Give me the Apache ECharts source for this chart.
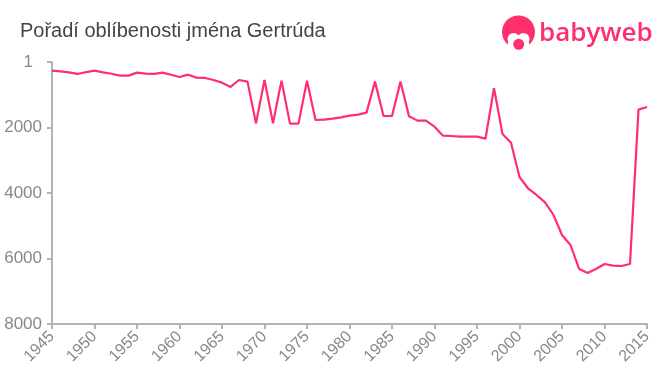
<!DOCTYPE html>
<html>
<head>
<meta charset="utf-8">
<title>Gertrúda</title>
<script src="https://cdn.jsdelivr.net/npm/echarts@6/dist/echarts.min.js"></script>
<style>
html,body{margin:0;padding:0;background:#fff}
#chart{width:660px;height:375px}
</style>
</head>
<body>
<div id="chart"></div>
<script>
var titleText = 'Pořadí oblíbenosti jména Gertrúda';
var logoText = 'babyweb';
var yTicks = [1, 2000, 4000, 6000, 8000];
var years = [];
for (var y = 1945; y <= 2015; y++) years.push(y);
var ranks = [
	265, 290, 320, 366, 310, 265, 320, 360, 418, 418,
	326, 357, 366, 326, 390, 458, 388, 479, 488, 550,
	632, 763, 550, 600, 1872, 550, 1872, 570, 1883, 1883,
	570, 1771, 1760, 1730, 1690, 1640, 1608, 1547, 600, 1649,
	1649, 600, 1659, 1791, 1791, 1975, 2250, 2260, 2280, 2280,
	2280, 2342, 800, 2198, 2464, 3511, 3856, 4061, 4285, 4672,
	5283, 5588, 6311, 6443, 6321, 6168, 6220, 6230, 6168, 1456,
	1374
];

var seriesData = [];
for (var a = 0; a < years.length; a++) {
	seriesData.push([years[a], ranks[a]]);
}

var pink = '#ff2e6c';
var grey = '#888888';
var axisGrey = '#b3b3b3';
var fontName = '"Liberation Sans", Arial, sans-serif';

var chart = echarts.init(document.getElementById('chart'), null, {renderer: 'canvas'});
var option = {
	animation: false,
	backgroundColor: '#fff',
	textStyle: {fontFamily: fontName},
	title: {
		text: titleText, left: 15, top: 16,
		textStyle: {fontSize: 20, fontWeight: 'normal', color: '#444444', fontFamily: fontName}
	},
	grid: {left: 52, right: 13, top: 62, bottom: 51},
	xAxis: {
		type: 'value', min: 1945, max: 2015, interval: 5,
		axisLine: {lineStyle: {color: axisGrey, width: 2}},
		axisTick: {show: true, length: 5, lineStyle: {color: axisGrey, width: 2}},
		axisLabel: {
			rotate: 45, fontSize: 16, color: grey, margin: 10, showMinLabel: true, showMaxLabel: true,
			hideOverlap: false,
			formatter: function(v){ return '' + v; }
		},
		splitLine: {show: false}
	},
	yAxis: {
		type: 'value', inverse: true, min: 1, max: 8000,
		axisLine: {show: true, lineStyle: {color: axisGrey, width: 2}},
		axisTick: {show: true, length: 5, lineStyle: {color: axisGrey, width: 2}, customValues: yTicks},
		axisLabel: {
			fontSize: 17, color: grey, margin: 10, customValues: yTicks, showMinLabel: true, showMaxLabel: true,
			// "1" sedi v originale vic vlevo
			formatter: function(v){ return v == 1 ? '{one|1}' : '' + v; },
			rich: {one: {fontSize: 17, color: grey, padding: [0, 9, 0, 0]}}
		},
		splitLine: {show: false}
	},
	series: [{
		type: 'line', data: seriesData, showSymbol: false, symbol: 'none', smooth: false,
		lineStyle: {color: pink, width: 2.2}
	}],
	graphic: [
		// logo: hlava
		{type: 'circle', shape: {cx: 518.5, cy: 32, r: 16.5}, style: {fill: pink}},
		{type: 'circle', shape: {cx: 518.5, cy: 46, r: 11}, style: {fill: '#fff'}},
		{type: 'circle', shape: {cx: 513.5, cy: 39, r: 6}, style: {fill: '#fff'}},
		{type: 'circle', shape: {cx: 523.5, cy: 39, r: 6}, style: {fill: '#fff'}},
		{type: 'circle', shape: {cx: 518.7, cy: 44.3, r: 5.5}, style: {fill: pink}},
		{type: 'text', x: 539, y: 21, style: {text: logoText, fill: pink, fontSize: 26, fontWeight: 600, fontFamily: '"Open Sans", sans-serif'}}
	]
};
chart.setOption(option);
</script>
</body>
</html>
